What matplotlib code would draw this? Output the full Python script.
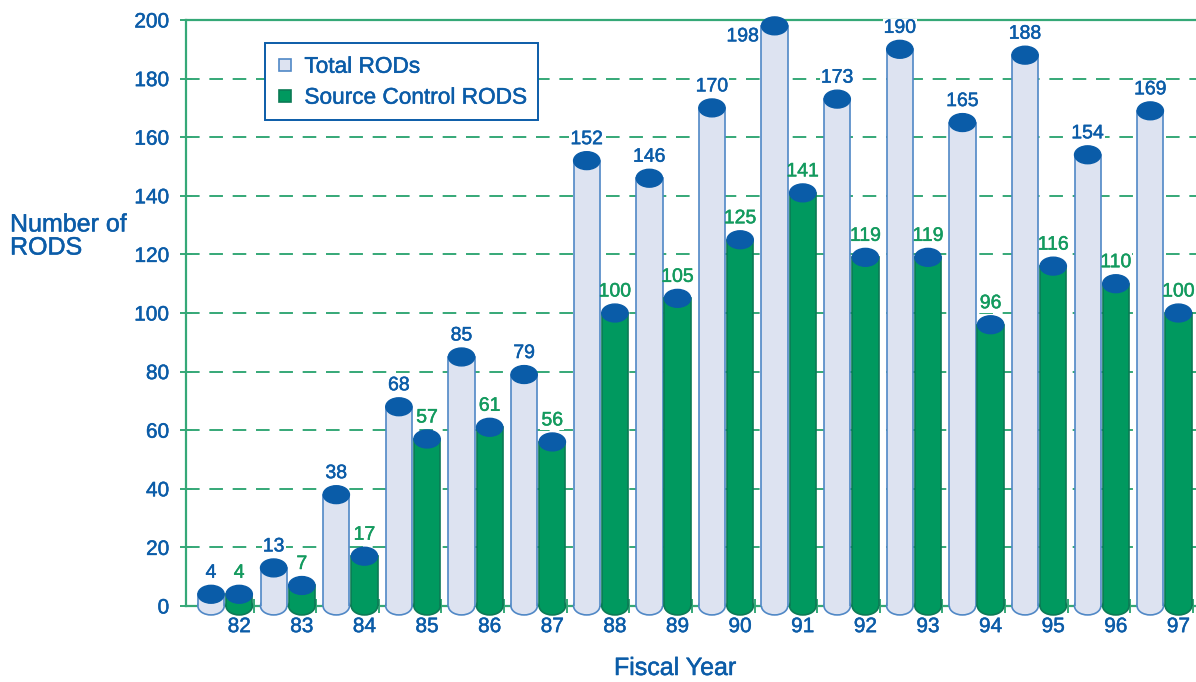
import matplotlib
matplotlib.use("Agg")
import matplotlib.pyplot as plt
import matplotlib.patheffects as pe
from matplotlib.patches import Ellipse, Rectangle
from matplotlib.lines import Line2D

# ---- datos ----
YEARS = ["82", "83", "84", "85", "86", "87", "88", "89",
         "90", "91", "92", "93", "94", "95", "96", "97"]
TOTAL = [4, 13, 38, 68, 85, 79, 152, 146, 170, 198, 173, 190, 165, 188, 154, 169]
SOURCE = [4, 7, 17, 57, 61, 56, 100, 105, 125, 141, 119, 119, 96, 116, 110, 100]
YTICKS = [0, 20, 40, 60, 80, 100, 120, 140, 160, 180, 200]

# ---- estilo ----
BLUE = "#0b5ca8"
GREEN_TXT = "#139a5e"
GRID = "#35a877"
LIGHT = "#dde3f1"
LIGHT_EDGE = "#5088c6"
GREEN = "#00995f"
GREEN_EDGE = "#0c7a55"
CAP = "#0a5ca8"
W = 0.42          # ancho de cada cilindro (unidades de grupo)
CAP_H = 6.1       # alto de la elipse (unidades del eje y)


def grueso(color):
    # engrosa un poco el trazo del texto
    return [pe.withStroke(linewidth=0.35, foreground=color)]


plt.rcParams["font.family"] = ["Liberation Sans", "DejaVu Sans"]

fig = plt.figure(figsize=(11.96, 6.82), dpi=100)
ax = fig.add_axes([186 / 1196, 76 / 682, 1010 / 1196, 586 / 682])
ax.set_xlim(-0.08, 16.05)
ax.set_ylim(0, 200)


def cilindro(x, v, body, edge):
    # base, cuerpo, lados y tapa
    ax.add_patch(Ellipse((x, 0), W, CAP_H, facecolor=body, edgecolor=edge,
                         lw=1.2, zorder=3, clip_on=False))
    ax.add_patch(Rectangle((x - W / 2, 0), W, v, facecolor=body,
                           edgecolor="none", zorder=3))
    ax.plot([x - W / 2, x - W / 2], [0, v], color=edge, lw=1.2, zorder=4)
    ax.plot([x + W / 2, x + W / 2], [0, v], color=edge, lw=1.2, zorder=4)
    ax.add_patch(Ellipse((x, v), W, CAP_H, facecolor=CAP, edgecolor=CAP,
                         lw=1.0, zorder=5, clip_on=False))


def etiqueta(x, v, color, dx=0, dy=21, ha="center"):
    kw = dict(xytext=(dx, dy), textcoords="offset pixels", ha=ha, va="center",
              fontsize=14)
    # fondo blanco detras del numero (tapa la grilla, no los cilindros)
    ax.annotate(str(v), (x, v), color=(1, 1, 1, 0), zorder=2,
                bbox=dict(boxstyle="square,pad=0.05", fc="white", ec="none"),
                **kw)
    ax.annotate(str(v), (x, v), color=color, zorder=6,
                path_effects=grueso(color), **kw)


for i, (t, s) in enumerate(zip(TOTAL, SOURCE)):
    xt, xs = i + 0.32, i + 0.77
    cilindro(xt, t, LIGHT, LIGHT_EDGE)
    cilindro(xs, s, GREEN, GREEN_EDGE)
    if t >= 195:
        # no entra arriba: etiqueta al costado
        etiqueta(xt - W / 2 - 0.04, t, BLUE, dy=-11, ha="right")
    else:
        etiqueta(xt, t, BLUE)
    etiqueta(xs, s, GREEN_TXT)

# ---- ejes y grilla ----
for y in YTICKS[1:-1]:
    ax.axhline(y, color=GRID, lw=1.4, ls=(0, (7, 5)), zorder=1)
ax.axhline(200, color=GRID, lw=1.6, zorder=1, clip_on=False)

for side in ["right", "top"]:
    ax.spines[side].set_visible(False)
for side in ["left", "bottom"]:
    ax.spines[side].set_color(GRID)
    ax.spines[side].set_linewidth(1.6)

ax.set_yticks(YTICKS)
ax.set_yticklabels([str(y) for y in YTICKS])
ax.tick_params(axis="y", direction="inout", length=8, width=1.4, color=GRID,
               labelcolor=BLUE, labelsize=15, pad=8)

ax.set_xticks([i + 0.77 for i in range(len(YEARS))])
ax.set_xticklabels(YEARS)
ax.set_xticks(range(1, len(YEARS) + 1), minor=True)
ax.tick_params(axis="x", which="major", length=0, labelcolor=BLUE,
               labelsize=15, pad=8)
ax.tick_params(axis="x", which="minor", direction="inout", length=10,
               width=1.4, color=GRID)
for lab in ax.get_xticklabels() + ax.get_yticklabels():
    lab.set_path_effects(grueso(BLUE))

fig.text(10 / 1196, 1 - 236 / 682, "Number of\nRODS", ha="left", va="center",
         color=BLUE, fontsize=18, linespacing=0.95, path_effects=grueso(BLUE))
fig.text(675 / 1196, 1 - 668 / 682, "Fiscal Year", ha="center", va="center",
         color=BLUE, fontsize=18, path_effects=grueso(BLUE))

handles = [
    Line2D([], [], ls="none", marker="s", markersize=9, markerfacecolor=LIGHT,
           markeredgecolor=LIGHT_EDGE, markeredgewidth=1.2),
    Line2D([], [], ls="none", marker="s", markersize=9, markerfacecolor=GREEN,
           markeredgecolor=GREEN_EDGE, markeredgewidth=1.2),
]
leg = ax.legend(handles, ["Total RODs", "Source Control RODS"],
                loc="upper left", bbox_to_anchor=(0.078, 0.96),
                fontsize=16.3, frameon=True, fancybox=False, framealpha=1,
                edgecolor=BLUE, handlelength=0.8, handletextpad=0.45,
                borderpad=0.5, labelspacing=0.35, borderaxespad=0)
leg.get_frame().set_linewidth(1.4)
for txt in leg.get_texts():
    txt.set_color(BLUE)
    txt.set_path_effects(grueso(BLUE))
leg.set_zorder(7)

fig.savefig("out.png", dpi=100)
